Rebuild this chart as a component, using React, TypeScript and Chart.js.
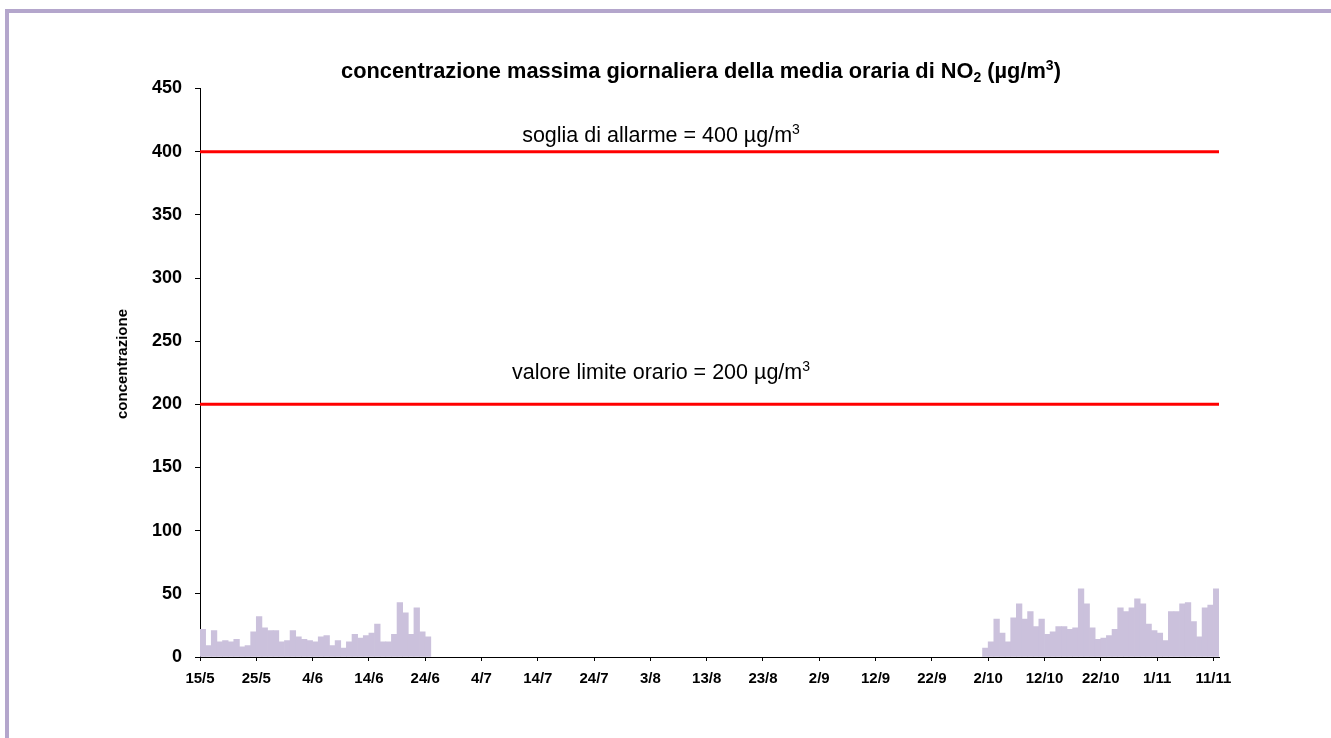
import React, { useEffect, useRef } from 'react';
import { Chart, registerables } from 'chart.js';

Chart.register(...registerables);

// x axis: one category per day, 15/5 … 11/11 (181 days)
const tickLabels = ['15/5', '25/5', '4/6', '14/6', '24/6', '4/7', '14/7', '24/7', '3/8', '13/8', '23/8', '2/9', '12/9', '22/9', '2/10', '12/10', '22/10', '1/11', '11/11'];
const dayCount = 181;
const tickStep = 10;

// daily max of hourly NO2 (µg/m3), 15/5 – 24/6
const springStartIndex = 0;
const springValues = [22, 9, 21, 12, 13, 12, 14, 8, 9, 20, 32, 23, 21, 21, 12, 13, 21, 16, 14, 13, 12, 16, 17, 9, 13, 7, 12, 18, 15, 17, 19, 26, 12, 12, 18, 43, 35, 18, 39, 20, 16];

// daily max of hourly NO2 (µg/m3), 1/10 – 11/11
const autumnStartIndex = 139;
const autumnValues = [7, 12, 30, 19, 12, 31, 42, 30, 36, 24, 30, 18, 20, 24, 24, 22, 23, 54, 42, 23, 14, 15, 17, 22, 39, 36, 39, 46, 42, 26, 21, 19, 13, 36, 36, 42, 43, 28, 16, 39, 41, 54];

// threshold lines
const alarmThreshold = 400;
const hourlyLimit = 200;

const yMin = 0;
const yMax = 450;
const yStep = 50;

const FONT = "'Liberation Sans', Arial, sans-serif";

type Seg = { t: string; size: number; dy: number };

function drawRich(ctx: CanvasRenderingContext2D, segs: Seg[], cx: number, y: number, weight: string) {
  let total = 0;
  for (const s of segs) {
    ctx.font = `${weight} ${s.size}px ${FONT}`;
    total += ctx.measureText(s.t).width;
  }
  let x = cx - total / 2;
  ctx.textAlign = 'left';
  ctx.textBaseline = 'alphabetic';
  for (const s of segs) {
    ctx.font = `${weight} ${s.size}px ${FONT}`;
    ctx.fillText(s.t, x, y + s.dy);
    x += ctx.measureText(s.t).width;
  }
}

const textPlugin = {
  id: 'texts',
  afterDraw(chart: any) {
    const ctx: CanvasRenderingContext2D = chart.ctx;
    const y = chart.scales.y;
    ctx.save();
    ctx.fillStyle = '#000';
    // title
    drawRich(ctx, [
      { t: 'concentrazione massima giornaliera della media oraria di NO', size: 21.8, dy: 0 },
      { t: '2', size: 14, dy: 4 },
      { t: ' (µg/m', size: 21.8, dy: 0 },
      { t: '3', size: 14, dy: -8 },
      { t: ')', size: 21.8, dy: 0 },
    ], 701, 78, 'bold');
    // threshold labels
    drawRich(ctx, [
      { t: `soglia di allarme = ${alarmThreshold} µg/m`, size: 21.5, dy: 0 },
      { t: '3', size: 14, dy: -8 },
    ], 661, y.getPixelForValue(alarmThreshold) - 10, 'normal');
    drawRich(ctx, [
      { t: `valore limite orario = ${hourlyLimit} µg/m`, size: 21.5, dy: 0 },
      { t: '3', size: 14, dy: -8 },
    ], 661, y.getPixelForValue(hourlyLimit) - 25, 'normal');
    // y axis title
    ctx.translate(123, 364);
    ctx.rotate(-Math.PI / 2);
    ctx.font = `bold 15px ${FONT}`;
    ctx.textAlign = 'center';
    ctx.textBaseline = 'middle';
    ctx.fillText('concentrazione', 0, 0);
    ctx.restore();
  },
};

export default function App() {
  const ref = useRef<HTMLCanvasElement>(null);
  useEffect(() => {
    if (!ref.current) return;
    const barData: { x: number; y: number }[] = [];
    springValues.forEach((v, i) => barData.push({ x: springStartIndex + i + 0.5, y: v }));
    autumnValues.forEach((v, i) => barData.push({ x: autumnStartIndex + i + 0.5, y: v }));
    const chart = new Chart(ref.current, {
      type: 'bar',
      data: {
        datasets: [
          {
            type: 'line',
            data: [{ x: 0, y: alarmThreshold }, { x: dayCount, y: alarmThreshold }],
            borderColor: '#FF0000',
            borderWidth: 3,
            pointRadius: 0,
          } as any,
          {
            type: 'line',
            data: [{ x: 0, y: hourlyLimit }, { x: dayCount, y: hourlyLimit }],
            borderColor: '#FF0000',
            borderWidth: 3,
            pointRadius: 0,
          } as any,
          {
            type: 'bar',
            data: barData,
            backgroundColor: '#CBC1DC',
            borderWidth: 0,
            barPercentage: 1,
            categoryPercentage: 1,
          } as any,
        ],
      },
      options: {
        responsive: false,
        animation: false,
        events: [],
        layout: { padding: { left: 0, top: 88.5, right: 112, bottom: 0 } },
        plugins: { legend: { display: false }, title: { display: false }, tooltip: { enabled: false } },
        scales: {
          x: {
            type: 'linear',
            min: 0,
            max: dayCount,
            offset: false,
            afterBuildTicks: (s: any) => {
              s.ticks = tickLabels.map((_, i) => ({ value: i * tickStep }));
            },
            afterFit: (s: any) => { s.height = 81; },
            ticks: {
              autoSkip: false,
              maxRotation: 0,
              padding: 9,
              color: '#000',
              font: { family: FONT, size: 15, weight: 'bold' },
              callback: (_v: any, i: number) => tickLabels[i],
            },
            grid: { offset: false, drawOnChartArea: false, drawTicks: true, tickLength: 4, color: '#000' },
            border: { display: true, color: '#000', width: 1 },
          },
          y: {
            min: yMin,
            max: yMax,
            afterFit: (s: any) => { s.width = 200; },
            ticks: {
              stepSize: yStep,
              padding: 13,
              color: '#000',
              font: { family: FONT, size: 18, weight: 'bold' },
            },
            grid: { drawOnChartArea: false, drawTicks: true, tickLength: 5, color: '#000' },
            border: { display: true, color: '#000', width: 1 },
          },
        },
      },
      plugins: [textPlugin],
    } as any);
    return () => chart.destroy();
  }, []);

  return (
    <div style={{ position: 'fixed', left: 0, top: 0, width: 1331, height: 738, overflow: 'hidden', background: '#fff' }}>
      <div style={{ position: 'absolute', left: 5, top: 9, width: 1400, height: 800, borderTop: '4px solid #B4A6CC', borderLeft: '4px solid #B4A6CC' }} />
      <canvas ref={ref} width={1331} height={738} style={{ position: 'absolute', left: 0, top: 0 }} />
    </div>
  );
}
